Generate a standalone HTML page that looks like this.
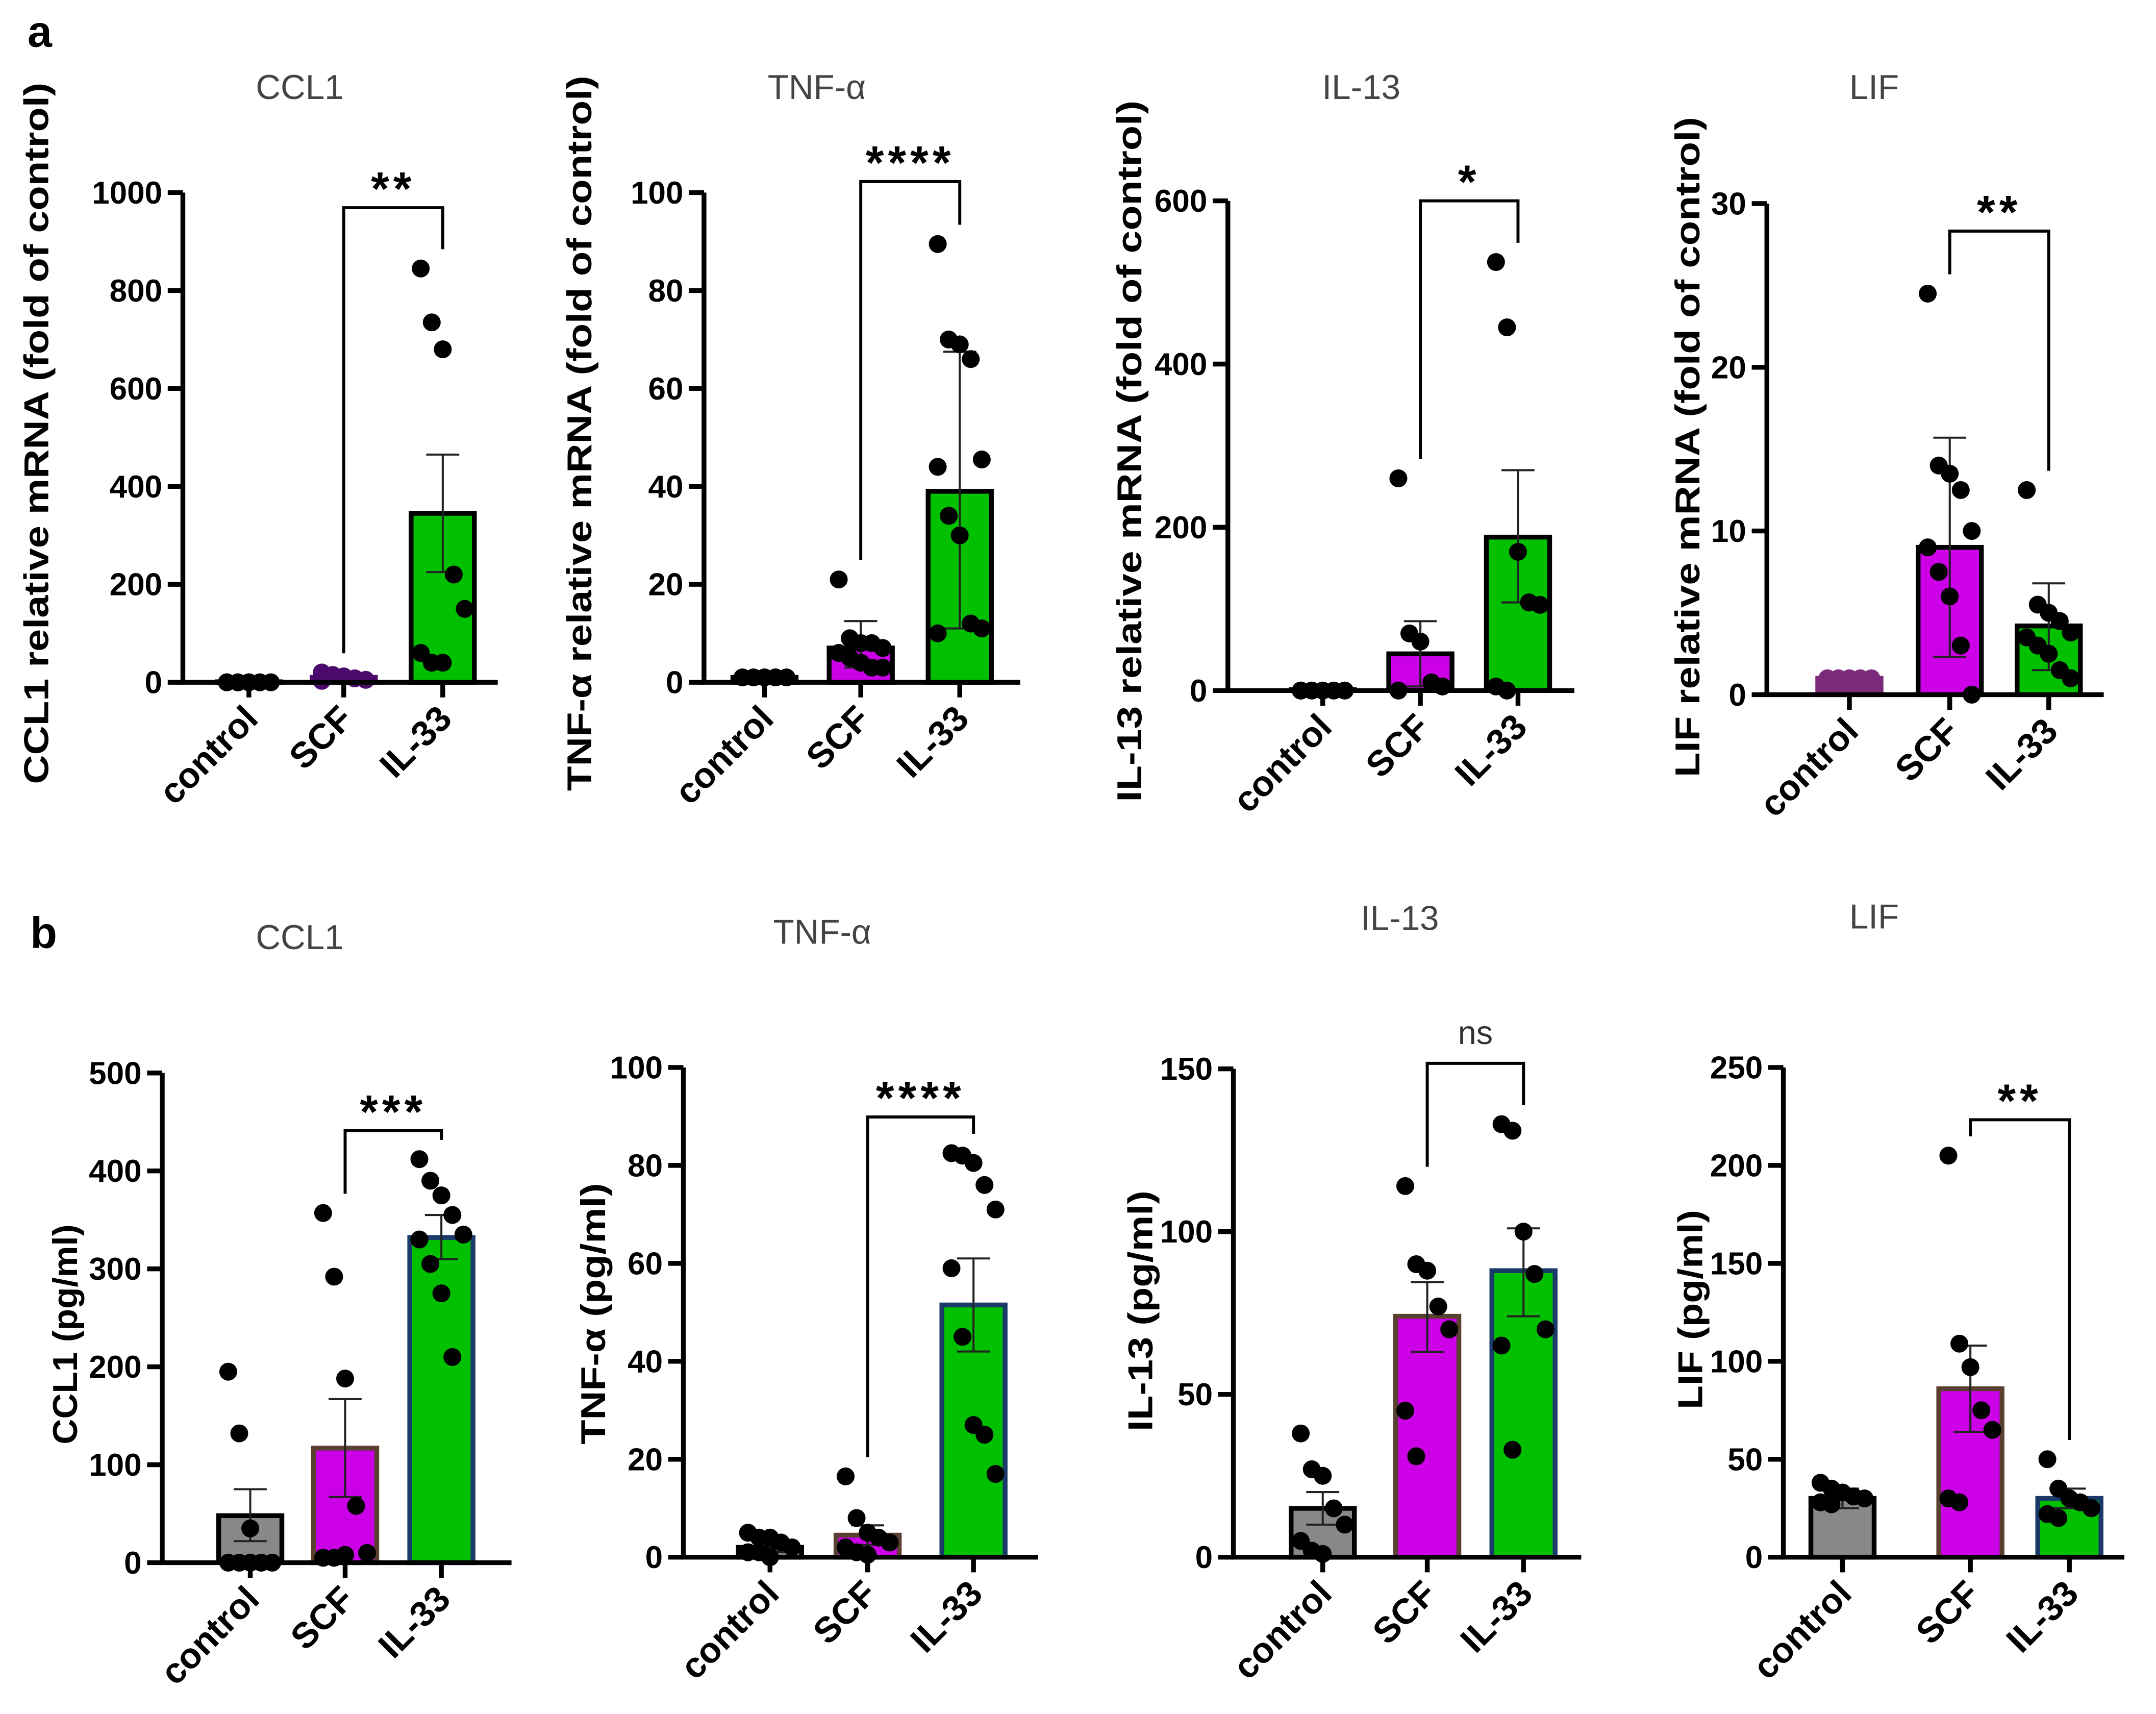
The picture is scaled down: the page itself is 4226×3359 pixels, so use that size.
<!DOCTYPE html>
<html><head><meta charset="utf-8"><style>
html,body{margin:0;padding:0;background:#fff}
svg{display:block}
text{font-family:"Liberation Sans",Arial,sans-serif}
</style></head><body>
<svg id="fig" width="4226" height="3359" viewBox="0 0 1568 1246" preserveAspectRatio="none" xmlns="http://www.w3.org/2000/svg">
<text x="20" y="34" font-size="32" font-weight="bold">a</text>
<text x="22" y="689" font-size="32" font-weight="bold">b</text>
</svg>
<script>
const categories = ["control","SCF","IL-33"];
// panel a (mRNA fold of control)
const aCCL1Means=[1,10,345], aCCL1Err=[[1,1],[12,8],[465,225]];
const aCCL1Pts=[[0,0,0,0,0,0,0,0],[20,15,12,8,5,3],[845,735,680,220,150,60,40,40]];
const aTNFMeans=[1,7,39], aTNFErr=[[1,1],[12.5,3],[67.5,11]];
const aTNFPts=[[1,1,1,1,1],[21,9,8,8,7,6,5,4,3,3],[89.5,70,69,66,45.5,44,34,30,12,11,10]];
const aIL13Means=[1,45,188], aIL13Err=[[1,1],[85,5],[270,108]];
const aIL13Pts=[[0,0,0,0,0,0],[260,70,60,10,5,0],[525,445,170,108,105,5,0]];
const aLIFMeans=[1,9,4.2], aLIFErr=[[1,1],[15.7,2.3],[6.8,1.5]];
const aLIFPts=[[1,1,1,1,1],[24.5,14,13.5,12.5,10,9,7.5,6,3,0],[12.5,5.5,5,4.5,3.8,3.5,3,2.5,1.5,1]];
// panel b (pg/ml)
const bCCL1Means=[48,117,332], bCCL1Err=[[75,22],[167,67],[355,310]];
const bCCL1Pts=[[195,132,35,0,0,0,0,0],[357,292,188,58,10,5,5,8],[412,390,375,355,335,330,305,275,210]];
const bTNFMeans=[2,4.5,51.5], bTNFErr=[[3,1],[6.5,2.5],[61,42]];
const bTNFPts=[[5,4,4,3,2,1,1,0],[16.5,8,5,4,3,2,1,0.5],[82.5,82,80.5,76,71,59,45,27,25,17]];
const bIL13Means=[15,74,88], bIL13Err=[[20,10],[84.5,63],[101,74]];
const bIL13Pts=[[38,27,25,15,10,5,2,1],[114,90,88,77,70,45,31],[133,131,100,87,70,65,33]];
const bLIFMeans=[30,86,30], bLIFErr=[[35,25],[108,64],[35,25]];
const bLIFPts=[[38,35,33,31,30,28,27],[205,109,97,75,65,30,28],[50,35,30,28,25,22,20]];
const aTicks=[[0,200,400,600,800,1000],[0,20,40,60,80,100],[0,200,400,600],[0,10,20,30]];
const bTicks=[[0,100,200,300,400,500],[0,20,40,60,80,100],[0,50,100,150],[0,50,100,150,200,250]];
const svg=document.getElementById('fig');
const NS='http://www.w3.org/2000/svg';
function mk(tag,attrs,parent){const e=document.createElementNS(NS,tag);for(const k in attrs)e.setAttribute(k,attrs[k]);(parent||svg).appendChild(e);return e;}
function panel(p){
  const g=mk('g',{});
  
  
  const ymax=p.ticks[p.ticks.length-1];
  const Y=v=>p.y0-(v/ymax)*(p.y0-p.ytop);
  const X=i=>p.cx[i];
  const t=mk('text',{x:p.tx,y:p.ty,'font-size':25,fill:'#444','text-anchor':'middle'},g);t.textContent=p.title;
  
  
  const yl=mk('text',{x:0,y:0,'font-size':25,'font-weight':'bold','text-anchor':'middle',textLength:p.yll,lengthAdjust:'spacingAndGlyphs',transform:`translate(${p.ylx},${p.yly}) rotate(-90)`},g);yl.textContent=p.ylabel;
  
  
  for(let i=0;i<3;i++){
    const h=p.y0-Y(p.means[i]);
    const bar=mk('rect',{x:X(i)-23,y:Y(p.means[i]),width:46,height:Math.max(h,0.5),fill:p.fill[i],stroke:p.stroke[i],'stroke-width':3.5},g);
    
    
    const e=p.err[i];
    const eb=mk('path',{d:`M${X(i)},${Y(e[0])}V${Y(e[1])}M${X(i)-12},${Y(e[0])}H${X(i)+12}M${X(i)-12},${Y(e[1])}H${X(i)+12}`,stroke:'#222','stroke-width':1.5,fill:'none'},g);
    
    
    const pts=p.pts[i];
    pts.forEach((v,j)=>{
      const off=((j%5)-2)*8;
      const c=mk('circle',{cx:X(i)+off,cy:Y(v),r:6.5,fill:p.dot[i]},g);
      
      
    });
  }
  const ax=mk('path',{d:`M${p.ax},${p.ytop}V${p.y0}H${p.xend}`,stroke:'#000','stroke-width':3.5,fill:'none'},g);
  
  
  p.ticks.forEach(v=>{
    mk('line',{x1:p.ax-11,x2:p.ax,y1:Y(v),y2:Y(v),stroke:'#000','stroke-width':3.5},g);
    const tl=mk('text',{x:p.ax-15,y:Y(v)+8,'font-size':23,'font-weight':'bold','text-anchor':'end'},g);tl.textContent=v;
    
    
  });
  for(let i=0;i<3;i++){
    mk('line',{x1:X(i),x2:X(i),y1:p.y0,y2:p.y0+11,stroke:'#000','stroke-width':3.5},g);
    const xl=mk('text',{x:0,y:0,'font-size':26,'font-weight':'bold','text-anchor':'end',transform:`translate(${X(i)+8},${p.y0+28}) rotate(-45)`},g);xl.textContent=categories[i];
    
    
  }
  const m1=Math.max(p.err[1][0],...p.pts[1]), m2=Math.max(p.err[2][0],...p.pts[2]);
  const br=mk('path',{d:`M${X(1)},${Y(m1)-14}V${p.by}H${X(2)}V${Y(m2)-14}`,stroke:'#000','stroke-width':2.2,fill:'none'},g);
  
  
  const st=mk('text',{x:(X(1)+X(2))/2,y:p.by-(p.sig==='ns'?14:2),'font-size':p.sig==='ns'?24:34,'font-weight':p.sig==='ns'?'normal':'bold','text-anchor':'middle','letter-spacing':p.sig==='ns'?0:3,fill:p.sig==='ns'?'#333':'#000'},g);st.textContent=p.sig;
  
  
}
const G='#00c000',M='#cc00e6',GR='#888';
panel({id:'panel-a-ccl1',title:'CCL1',tx:218,ty:72,ylabel:'CCL1 relative mRNA (fold of control)',yll:510,ylx:35,yly:315,ax:133,xend:362,y0:496,ytop:140,ticks:aTicks[0],cx:[181,250,322],means:aCCL1Means,err:aCCL1Err,pts:aCCL1Pts,fill:['#111','#4b0a6b',G],stroke:['#000','#4b0a6b','#000'],dot:['#000','#4b0a6b','#000'],by:151,sig:'**'});
panel({id:'panel-a-tnf',title:'TNF-α',tx:594,ty:72,ylabel:'TNF-α relative mRNA (fold of control)',yll:520,ylx:430,yly:315,ax:512,xend:742,y0:496,ytop:140,ticks:aTicks[1],cx:[556,626,698],means:aTNFMeans,err:aTNFErr,pts:aTNFPts,fill:['#333',M,G],stroke:['#000','#000','#000'],dot:['#000','#000','#000'],by:132,sig:'****'});
panel({id:'panel-a-il13',title:'IL-13',tx:990,ty:72,ylabel:'IL-13 relative mRNA (fold of control)',yll:510,ylx:830,yly:328,ax:893,xend:1145,y0:502,ytop:146,ticks:aTicks[2],cx:[962,1033,1104],means:aIL13Means,err:aIL13Err,pts:aIL13Pts,fill:['#333',M,G],stroke:['#000','#000','#000'],dot:['#000','#000','#000'],by:146,sig:'*'});
panel({id:'panel-a-lif',title:'LIF',tx:1363,ty:72,ylabel:'LIF relative mRNA (fold of control)',yll:480,ylx:1236,yly:325,ax:1285,xend:1530,y0:505,ytop:148,ticks:aTicks[3],cx:[1345,1418,1490],means:aLIFMeans,err:aLIFErr,pts:aLIFPts,fill:['#7a2a7a',M,G],stroke:['#7a2a7a','#000','#000'],dot:['#7a2a7a','#000','#000'],by:168,sig:'**'});
panel({id:'panel-b-ccl1',title:'CCL1',tx:218,ty:690,ylabel:'CCL1 (pg/ml)',yll:160,ylx:56,yly:970,ax:118,xend:372,y0:1136,ytop:780,ticks:bTicks[0],cx:[182,251,321],means:bCCL1Means,err:bCCL1Err,pts:bCCL1Pts,fill:[GR,M,G],stroke:['#000','#5a4030','#1a3a6a'],dot:['#000','#000','#000'],by:822,sig:'***'});
panel({id:'panel-b-tnf',title:'TNF-α',tx:598,ty:686,ylabel:'TNF-α (pg/ml)',yll:190,ylx:440,yly:955,ax:497,xend:755,y0:1132,ytop:776,ticks:bTicks[1],cx:[560,631,708],means:bTNFMeans,err:bTNFErr,pts:bTNFPts,fill:[GR,M,G],stroke:['#000','#5a4030','#1a3a6a'],dot:['#000','#000','#000'],by:812,sig:'****'});
panel({id:'panel-b-il13',title:'IL-13',tx:1018,ty:676,ylabel:'IL-13 (pg/ml)',yll:175,ylx:838,yly:953,ax:897,xend:1150,y0:1132,ytop:777,ticks:bTicks[2],cx:[962,1038,1108],means:bIL13Means,err:bIL13Err,pts:bIL13Pts,fill:[GR,M,G],stroke:['#000','#5a4030','#1a3a6a'],dot:['#000','#000','#000'],by:773,sig:'ns'});
panel({id:'panel-b-lif',title:'LIF',tx:1363,ty:675,ylabel:'LIF (pg/ml)',yll:145,ylx:1238,yly:952,ax:1297,xend:1545,y0:1132,ytop:776,ticks:bTicks[3],cx:[1340,1433,1505],means:bLIFMeans,err:bLIFErr,pts:bLIFPts,fill:[GR,M,G],stroke:['#000','#5a4030','#1a3a6a'],dot:['#000','#000','#000'],by:814,sig:'**'});
</script>
</body></html>
